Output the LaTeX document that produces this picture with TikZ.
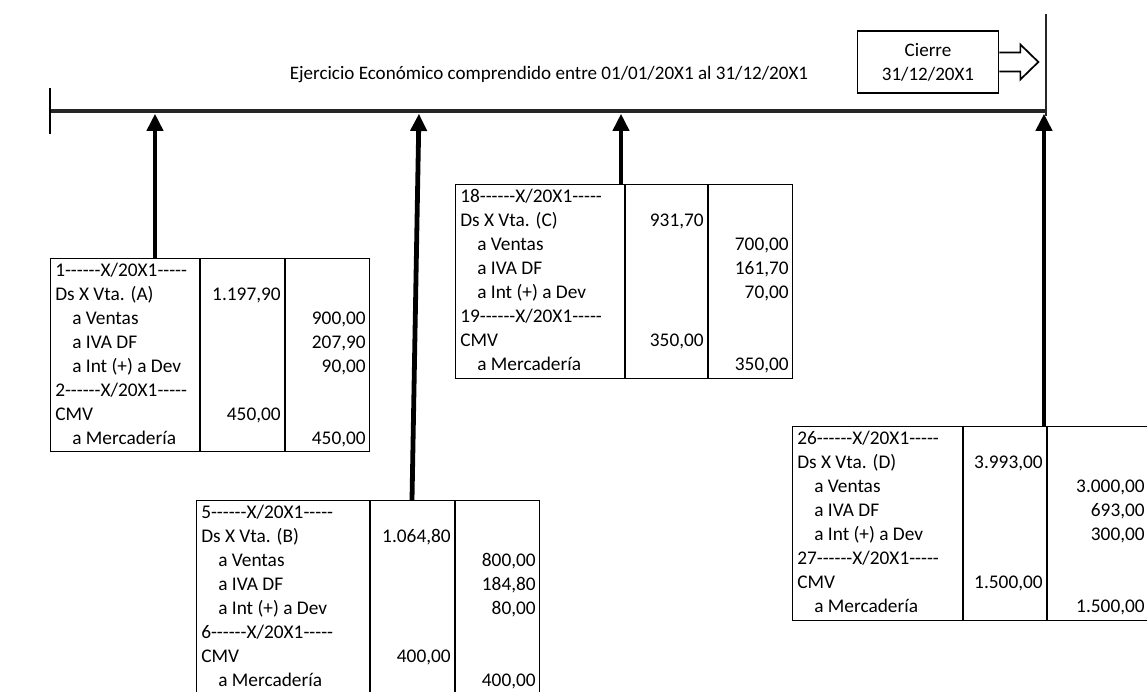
\documentclass[tikz,border=0pt]{standalone}
\usepackage{fontspec}
\setmainfont{Carlito}[Ligatures=TeXOff]
\usetikzlibrary{arrows.meta,calc}
\tikzset{
  txt/.style={inner sep=0pt, font=\fontsize{14.5}{17}\selectfont},
  lt/.style={txt, anchor=base west},
  rt/.style={txt, anchor=base east},
  tbl/.style={draw, line width=1.1pt, inner sep=0pt},
  tline/.style={line width=1.1pt},
  arr/.style={line width=3.6pt, -{Triangle[length=13pt,width=12pt]}},
}
% table frame: name, left, top, col1, col2, right, bottom
\newcommand\asiento[7]{%
  \node[tbl, anchor=north west, minimum width={(#6-#2)*0.75pt}, minimum height={(#7-#3)*0.75pt}] (#1) at (#2,#3) {};
  \draw[tline] (#4,#3) -- (#4,#7) (#5,#3) -- (#5,#7);
}
% rows: uses \P (prefix) \L (left) \T (top) \CB (col2 line) \R (right)
\newcommand\filas[8]{%
  \node[lt] (\P r1) at (\L+5,\T+18) {#1------X/20X1-----};
  \node[lt] (\P r2) at (\L+5,\T+42) {Ds X Vta. (#2)};
  \node[rt] (\P d2) at (\CB-4,\T+42) {#3};
  \node[lt] (\P r3) at (\L+22,\T+66) {a Ventas};
  \node[rt] (\P c3) at (\R-3,\T+66) {#4};
  \node[lt] (\P r4) at (\L+22,\T+90) {a IVA DF};
  \node[rt] (\P c4) at (\R-3,\T+90) {#5};
  \node[lt] (\P r5) at (\L+22,\T+114) {a Int (+) a Dev};
  \node[rt] (\P c5) at (\R-3,\T+114) {#6};
  \node[lt] (\P r6) at (\L+5,\T+138) {#7------X/20X1-----};
  \node[lt] (\P r7) at (\L+5,\T+162) {CMV};
  \node[rt] (\P d7) at (\CB-4,\T+162) {#8};
  \node[lt] (\P r8) at (\L+22,\T+186) {a Mercadería};
  \node[rt] (\P c8) at (\R-3,\T+186) {#8};
}
\begin{document}
\begin{tikzpicture}[x=0.75pt,y=-0.75pt]
\useasboundingbox (0,0) rectangle (1147,692);
\clip (0,0) rectangle (1147,692);
% timeline
\coordinate (tl0) at (50,111);
\coordinate (tl1) at (1046,111);
\coordinate (tick0a) at (50,88);
\coordinate (tick0b) at (50,134);
\coordinate (tick1a) at (1046,14);
\coordinate (tick1b) at (1046,116);
\draw[line width=2.4pt, black!85] (tl0) -- (tl1);
\draw[line width=2pt] (tick0a) -- (tick0b);
\draw[line width=1.6pt, black!85] (tick1a) -- (tick1b);
\node[txt, font=\fontsize{14.3}{17}\selectfont] (title) at (549,75) {Ejercicio Económico comprendido entre 01/01/20X1 al 31/12/20X1};
% cierre
\node[draw, line width=1.3pt, minimum width={141*0.75pt}, minimum height={62*0.75pt}, align=center,
      font=\fontsize{14.3}{18}\selectfont, inner sep=0pt] (cierre) at (928,62) {Cierre\\31/12/20X1};
\draw[line width=1.3pt, line join=miter]
  ($(cierre.east)+(0,-9.5)$) -- ++(21,0) -- ++(0,-8) -- ++(18,17.5) -- ++(-18,17.5) -- ++(0,-8) -- ++(-21,0);
% table A
\asiento{tA}{50}{258}{200}{285}{369}{451}
\def\P{A}\def\L{50}\def\T{258}\def\CB{285}\def\R{369}
\filas{1}{A}{1.197,90}{900,00}{207,90}{90,00}{2}{450,00}
% table C
\asiento{tC}{455}{184}{625}{708}{792}{378}
\def\P{C}\def\L{455}\def\T{184}\def\CB{708}\def\R{792}
\filas{18}{C}{931,70}{700,00}{161,70}{70,00}{19}{350,00}
% table B
\asiento{tB}{196}{500}{370}{455}{539}{697}
\def\P{B}\def\L{196}\def\T{500}\def\CB{455}\def\R{539}
\filas{5}{B}{1.064,80}{800,00}{184,80}{80,00}{6}{400,00}
% table D
\asiento{tD}{792}{426}{963}{1047}{1150}{620}
\def\P{D}\def\L{792}\def\T{426}\def\CB{1047}\def\R{1148}
\filas{26}{D}{3.993,00}{3.000,00}{693,00}{300,00}{27}{1.500,00}
% arrows
\coordinate (aA) at ($(tA.north west)+(105,0)$);
\coordinate (aC) at ($(tC.north west)+(166,0)$);
\coordinate (aB) at ($(tB.north west)+(216,0)$);
\coordinate (aD) at ($(tD.north west)+(252,0)$);
\coordinate (pB) at (419,111);
\draw[arr, shorten >=2pt] (aA) -- (aA |- tl0);
\draw[arr, shorten >=2pt] (aC) -- (aC |- tl0);
\draw[arr, shorten >=2pt] (aB) -- (pB);
\draw[arr, shorten >=2pt] (aD) -- (aD |- tl0);
\end{tikzpicture}
\end{document}
